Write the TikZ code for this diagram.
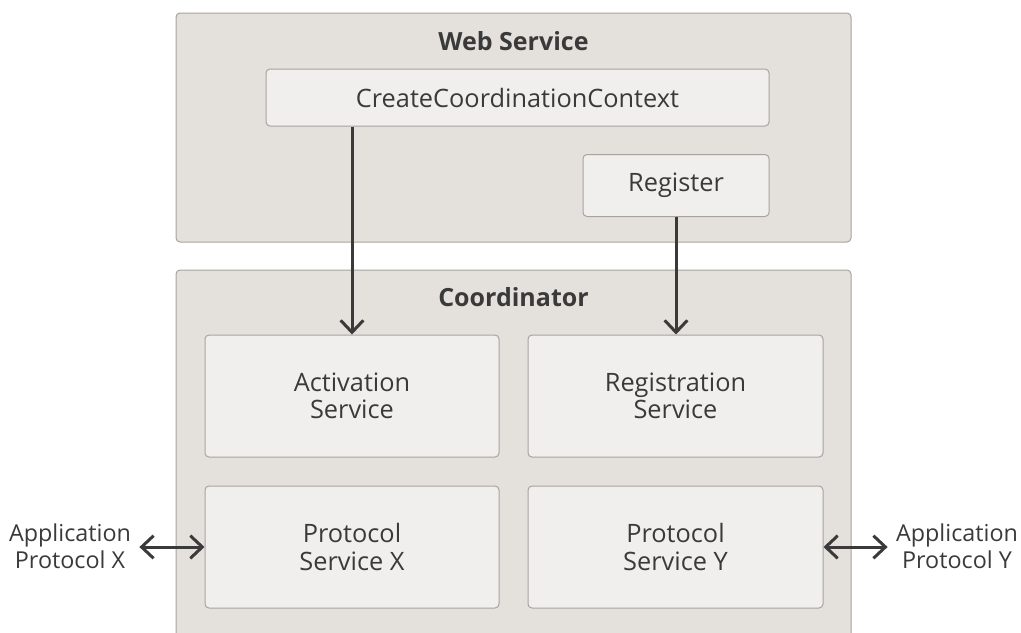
\documentclass[tikz,border=0pt]{standalone}
\usepackage{fontspec}
\setmainfont{Open Sans}
\usetikzlibrary{arrows.meta}

\definecolor{outerfill}{RGB}{228,225,221}
\definecolor{innerfill}{RGB}{240,239,237}
\definecolor{boxline}{RGB}{168,163,157}
\definecolor{inkgray}{RGB}{58,58,58}

\tikzset{every picture/.style={line width=0.75pt}}
\tikzset{
  groupbox/.style={draw=boxline, fill=outerfill, rounded corners=3pt, inner sep=0pt},
  svcbox/.style={draw=boxline, fill=innerfill, rounded corners=3pt, inner sep=0pt,
    text=inkgray, align=center, font=\fontsize{19}{20.5}\selectfont},
  grouptitle/.style={inner sep=0.75pt, text=inkgray, font=\fontsize{18.75}{20.5}\selectfont\bfseries},
  sidelabel/.style={inner sep=6pt, text=inkgray, align=center, font=\fontsize{17.5}{20.5}\selectfont},
  flow/.style={draw=inkgray, line width=2.25pt, -{Straight Barb[length=9pt,width=17pt]}},
  both/.style={draw=inkgray, line width=2.25pt, {Straight Barb[length=9pt,width=17pt]}-{Straight Barb[length=9pt,width=17pt]}}
}

\begin{document}
\begin{tikzpicture}[x=0.75pt,y=0.75pt,yscale=-1,xscale=1]
\useasboundingbox (0,0) rectangle (1021,632);
\clip (0,0) rectangle (1021,632);

%Shape: Rectangle (web service)
\draw (513.5,127.5) node [groupbox, minimum width=506.25pt, minimum height=171.75pt] (ws) {};
%Shape: Rectangle (coordinator, runs off the bottom)
\draw (513.5,460) node [groupbox, minimum width=506.25pt, minimum height=285pt] (coord) {};

% Text Node
\draw (513.5,41) node [grouptitle] (wstitle) {Web Service};
% Text Node
\draw (513.5,297) node [grouptitle] (coordtitle) {Coordinator};

%Shape: Rectangle
\draw (517.5,97.5) node [svcbox, minimum width=377.25pt, minimum height=42.75pt] (ccc) {CreateCoordinationContext};
%Shape: Rectangle
\draw (676,185.5) node [svcbox, minimum width=139.5pt, minimum height=46.5pt] (reg) {Register};

%Shape: Rectangle
\draw (352,396) node [svcbox, minimum width=220.5pt, minimum height=91.5pt] (act) {Activation\\Service};
%Shape: Rectangle
\draw (675.5,396) node [svcbox, minimum width=221.25pt, minimum height=91.5pt] (regsvc) {Registration\\Service};
%Shape: Rectangle
\draw (352,547) node [svcbox, minimum width=220.5pt, minimum height=91.5pt] (psx) {Protocol\\Service X};
%Shape: Rectangle
\draw (675.5,547) node [svcbox, minimum width=221.25pt, minimum height=91.5pt] (psy) {Protocol\\Service Y};

% Text Node
\draw (70,546) node [sidelabel] (appx) {Application\\Protocol X};
% Text Node
\draw (957,546) node [sidelabel] (appy) {Application\\Protocol Y};

%Straight Lines
\draw [flow] (ccc.south -| act.north) -- (act.north);
%Straight Lines
\draw [flow] (reg.south) -- (reg.south |- regsvc.north);
%Straight Lines
\draw [both] (appx.east |- psx.west) -- (psx.west);
%Straight Lines
\draw [both] (psy.east) -- (appy.west |- psy.east);
\end{tikzpicture}
\end{document}
